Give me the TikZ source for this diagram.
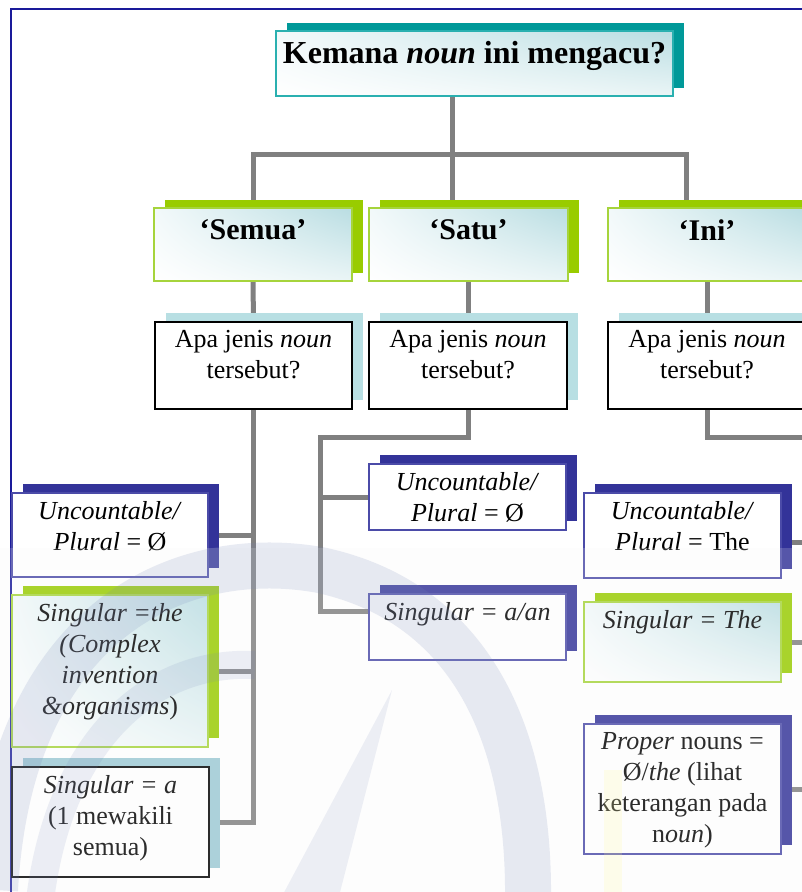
\documentclass[tikz,border=0pt]{standalone}
\usepackage{fontspec}
\setmainfont{Liberation Serif}
\usetikzlibrary{calc,shadings}
\definecolor{navyS}{HTML}{333399}
\definecolor{navyB}{HTML}{4B4BA8}
\definecolor{greenS}{HTML}{99CC00}
\definecolor{greenB}{HTML}{A6D43C}
\definecolor{tealS}{HTML}{009999}
\definecolor{tealB}{HTML}{2AB0B0}
\definecolor{blueS}{HTML}{B8DFE3}
\definecolor{blueS2}{HTML}{9CC9D4}
\definecolor{connC}{HTML}{808080}
\definecolor{frameC}{HTML}{1A1A9A}
\definecolor{gUL}{HTML}{F2F9FA}
\definecolor{gUR}{HTML}{B9DDE2}
\definecolor{gLR}{HTML}{EAF5F6}
\definecolor{wmC}{HTML}{7484B8}
\pgfdeclarelayer{bg}
\pgfdeclarelayer{shad}
\pgfdeclarelayer{fg}
\pgfsetlayers{bg,shad,main,fg}
\newcommand\mkbox[8]{%
  \node[#2, minimum width=#5pt, minimum height=#6pt] (#1) at (#3,#4) {};
  \begin{pgfonlayer}{shad}
    \fill[#7] ([shift={(11pt,9pt)}]#1.south west) rectangle ([shift={(11pt,9pt)}]#1.north east);
  \end{pgfonlayer}
  \node[txt] (#1t) at ([yshift=-8pt]#1.north) {#8};
}
\begin{document}
\begin{tikzpicture}[x=1pt,y=-1pt,
  base/.style={rectangle, anchor=north west, inner sep=0pt, outer sep=0pt},
  tealbox/.style={base, draw=tealB, line width=2pt, shade, upper left=gUL, upper right=gUR, lower left=white, lower right=gLR},
  grnbox/.style={base, draw=greenB, line width=2pt, shade, upper left=gUL, upper right=gUR, lower left=white, lower right=gLR},
  nvbox/.style={base, draw=navyB, line width=1.6pt, fill=white},
  blkbox/.style={base, draw=black, line width=1.6pt, fill=white},
  conn/.style={draw=connC, line width=5pt},
  txt/.style={anchor=north, inner sep=0pt, align=center, font=\fontsize{26}{31}\selectfont},
  head/.style={anchor=north, inner sep=0pt, align=center, font=\fontsize{30}{36}\selectfont\bfseries},
]
\useasboundingbox (0,0) rectangle (802,892);
\begin{pgfonlayer}{bg}
  \fill[white] (0,0) rectangle (802,892);
  \draw[frameC, line width=2pt] (11,900) -- (11,8.5) -- (810,8.5);
\end{pgfonlayer}

% level 1
\node[tealbox, minimum width=397pt, minimum height=65pt] (top) at (276,31) {};
\begin{pgfonlayer}{shad}
  \fill[tealS] ([shift={(11pt,8pt)}]top.south west) rectangle ([shift={(11pt,8pt)}]top.north east);
\end{pgfonlayer}
\node[head, font=\fontsize{32}{38}\selectfont\bfseries] (topt) at ([yshift=-10pt]top.north) {Kemana \textit{noun} ini mengacu?};

% level 2
\node[grnbox, minimum width=198pt, minimum height=73pt] (semua) at (154,208) {};
\node[grnbox, minimum width=199pt, minimum height=73pt] (satu) at (369,208) {};
\node[grnbox, minimum width=198pt, minimum height=73pt] (ini) at (608,208) {};
\begin{pgfonlayer}{shad}
  \foreach \n in {semua,satu,ini}
    \fill[greenS] ([shift={(11pt,8pt)}]\n.south west) rectangle ([shift={(11pt,8pt)}]\n.north east);
\end{pgfonlayer}
\node[head] (semuat) at ([yshift=-11pt]semua.north) {‘Semua’};
\node[head] (satut) at ([yshift=-11pt]satu.north) {‘Satu’};
\node[head] (init) at ([yshift=-11pt]ini.north) {‘Ini’};

% level 3
\mkbox{q1}{blkbox}{155}{322}{197}{87}{blueS}{Apa jenis \textit{noun}\\tersebut?}
\mkbox{q2}{blkbox}{369}{322}{198}{87}{blueS}{Apa jenis \textit{noun}\\tersebut?}
\mkbox{q3}{blkbox}{608}{322}{198}{87}{blueS}{Apa jenis \textit{noun}\\tersebut?}

% left column
\mkbox{a1}{nvbox}{12}{493}{196}{84}{navyS}{\textit{Uncountable/}\\\textit{Plural} = Ø}
\mkbox{a2}{grnbox}{12}{595}{196}{152}{greenS}{\textit{Singular =the}\\\textit{(Complex}\\\textit{invention}\\\textit{\&organisms})}
\mkbox{a3}{blkbox}{12}{767}{197}{110}{blueS2}{\textit{Singular = a}\\(1 mewakili\\semua)}

% middle column
\mkbox{b1}{nvbox}{369}{464}{197}{66}{navyS}{\textit{Uncountable/}\\\textit{Plural} = Ø}
\mkbox{b2}{nvbox}{369}{594}{197}{66}{navyS}{\textit{Singular = a/an}}

% right column
\mkbox{c1}{nvbox}{584}{493}{197}{85}{navyS}{\textit{Uncountable/}\\\textit{Plural} = The}
\mkbox{c2}{grnbox}{584}{602}{197}{80}{greenS}{\textit{Singular = The}}
\mkbox{c3}{nvbox}{584}{724}{197}{130}{navyS}{\textit{Proper} nouns =\\Ø/\textit{the} (lihat\\keterangan pada\\n\textit{oun})}

% connectors
\coordinate (hub) at (452,154);
\coordinate (hr) at (686,154);
\coordinate (m1) at (320,437);
\coordinate (m2) at (320,611);
\coordinate (r1) at (812,437);
\coordinate (rx) at (812,0);
\begin{pgfonlayer}{bg}
  \draw[conn] (hub |- top.south) -- (hub);
  \draw[conn] (semua.north) |- (hr) -- (hr |- ini.north);
  \draw[conn] (hub) -- (hub |- satu.north);
  \draw[conn] (semua.south) -- (q1.north);
  \draw[conn] (satu.south) -- (satu.south |- q2.north);
  \draw[conn] (ini.south) -- (ini.south |- q3.north);
  \draw[conn] (q1.south) |- (a3.east);
  \draw[conn] (a1.east) -- (a1.east -| q1.south);
  \draw[conn] (a2.east) -- (a2.east -| q1.south);
  \draw[conn] (q2.south) |- (m1) -- (m2) -- (m2 -| b2.west);
  \draw[conn] (m1 |- b1.west) -- (b1.west);
  \draw[conn] (q3.south) |- (r1);
  \draw[conn] ([yshift=-7pt]c1.east) -- ([yshift=-7pt]c1.east -| rx);
  \draw[conn] (c2.east) -- (c2.east -| rx);
  \draw[conn] (c3.east) -- (c3.east -| rx);
\end{pgfonlayer}

% watermark
\begin{pgfonlayer}{fg}
  \begin{scope}[line cap=butt]
    \fill[white!94!gray, opacity=0.18] (0,548) rectangle (802,892);
    \draw[wmC, opacity=0.16, line width=46pt]
      (-5,890) .. controls (10,620) and (180,545) .. (320,570)
      .. controls (460,600) and (530,720) .. (528,900);
    \draw[wmC, opacity=0.13, line width=28pt]
      (40,900) .. controls (60,740) and (150,660) .. (255,665);
    \fill[wmC, opacity=0.12] (392,690) -- (338,900) -- (280,900) -- cycle;
    \fill[yellow!40, opacity=0.18] (604,770) rectangle (622,892);
  \end{scope}
\end{pgfonlayer}
\end{tikzpicture}
\end{document}
